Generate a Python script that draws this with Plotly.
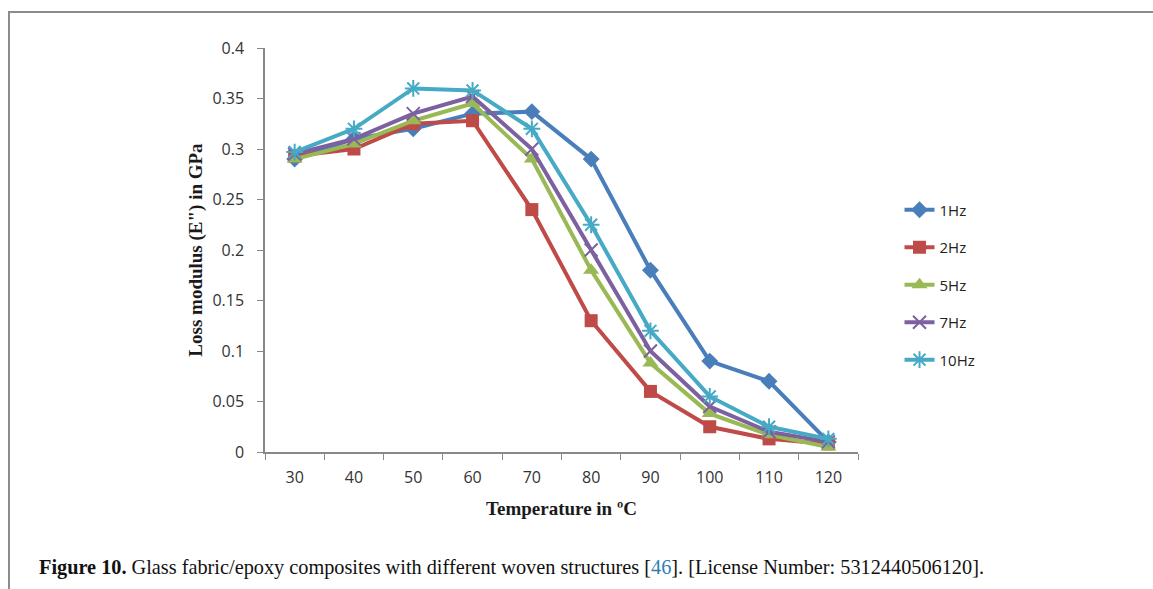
import plotly.graph_objects as go

temps = ["30", "40", "50", "60", "70", "80", "90", "100", "110", "120"]
hz1 = [0.290, 0.310, 0.320, 0.335, 0.337, 0.290, 0.180, 0.090, 0.070, 0.010]
hz2 = [0.293, 0.300, 0.325, 0.328, 0.240, 0.130, 0.060, 0.025, 0.013, 0.008]
hz5 = [0.290, 0.305, 0.328, 0.345, 0.290, 0.180, 0.088, 0.038, 0.017, 0.005]
hz7 = [0.295, 0.310, 0.335, 0.352, 0.300, 0.200, 0.100, 0.045, 0.020, 0.010]
hz10 = [0.297, 0.320, 0.360, 0.358, 0.320, 0.225, 0.120, 0.055, 0.025, 0.013]
y_ticks = [0, 0.05, 0.1, 0.15, 0.2, 0.25, 0.3, 0.35, 0.4]
y_tick_text = ["0", "0.05", "0.1", "0.15", "0.2", "0.25", "0.3", "0.35", "0.4"]

series = [
    ("1Hz", hz1, "#4A7EBB", "diamond", 13),
    ("2Hz", hz2, "#BE4B48", "square", 13),
    ("5Hz", hz5, "#98B954", "triangle-up", 14),
    ("7Hz", hz7, "#7D60A0", "x-thin", 13),
    ("10Hz", hz10, "#46AAC5", "asterisk", 14),
]

fig = go.Figure()
for i, (name, vals, col, sym, sz) in enumerate(series):
    fig.add_trace(go.Scatter(
        x=temps, y=vals, name=name, mode="lines+markers",
        line=dict(color=col, width=4),
        marker=dict(symbol=sym, size=sz, color=col,
                    line=dict(color=col, width=2 if sym in ("x-thin", "asterisk") else 0)),
        legendgroup=name,
    ))

axis_font = dict(family="Open Sans, Liberation Sans, sans-serif", size=16, color="#333333")
title_font = dict(family="Liberation Serif, serif", size=19, color="#1a1a1a")

fig.update_layout(
    width=1153, height=589,
    margin=dict(l=265, r=295, t=48, b=137),
    paper_bgcolor="white", plot_bgcolor="white",
    showlegend=True,
    legend=dict(x=1.07, y=0.64, xanchor="left", yanchor="top",
                font=dict(family="Open Sans, Liberation Sans, sans-serif", size=15, color="#222222"),
                tracegroupgap=15, bgcolor="rgba(0,0,0,0)"),
    xaxis=dict(type="category", range=[-0.5, 9.5], showgrid=False,
               showline=True, linecolor="#888888", linewidth=1.5,
               ticks="outside", ticklen=6, tickcolor="#888888", tickson="boundaries",
               tickfont=axis_font, ticklabelstandoff=10,
               title=dict(text="<b>Temperature in ºC</b>", font=title_font, standoff=15)),
    yaxis=dict(range=[0, 0.4], tickvals=y_ticks, ticktext=y_tick_text, showgrid=False,
               showline=True, linecolor="#888888", linewidth=1.5,
               ticks="outside", ticklen=6, tickcolor="#888888",
               tickfont=axis_font, zeroline=False, ticklabelstandoff=10,
               title=dict(text="<b>Loss modulus (E\") in GPa</b>", font=title_font, standoff=5)),
)

# frame around figure (left and top edges)
fig.add_shape(type="path", xref="paper", yref="paper",
              path="M -0.4317 -0.36 L -0.4317 1.089 L 1.52 1.089",
              line=dict(color="#8c8c8c", width=2))

fig.add_annotation(
    xref="paper", yref="paper", x=-0.3845, y=-0.285, xanchor="left", yanchor="middle",
    showarrow=False, align="left",
    text="<b>Figure 10.</b> Glass fabric/epoxy composites with different woven structures [<span style='color:#2f7fb8'>46</span>]. [License Number: 5312440506120].",
    font=dict(family="Liberation Serif, serif", size=20.3, color="#111111"),
)

fig.write_html("out.html")
